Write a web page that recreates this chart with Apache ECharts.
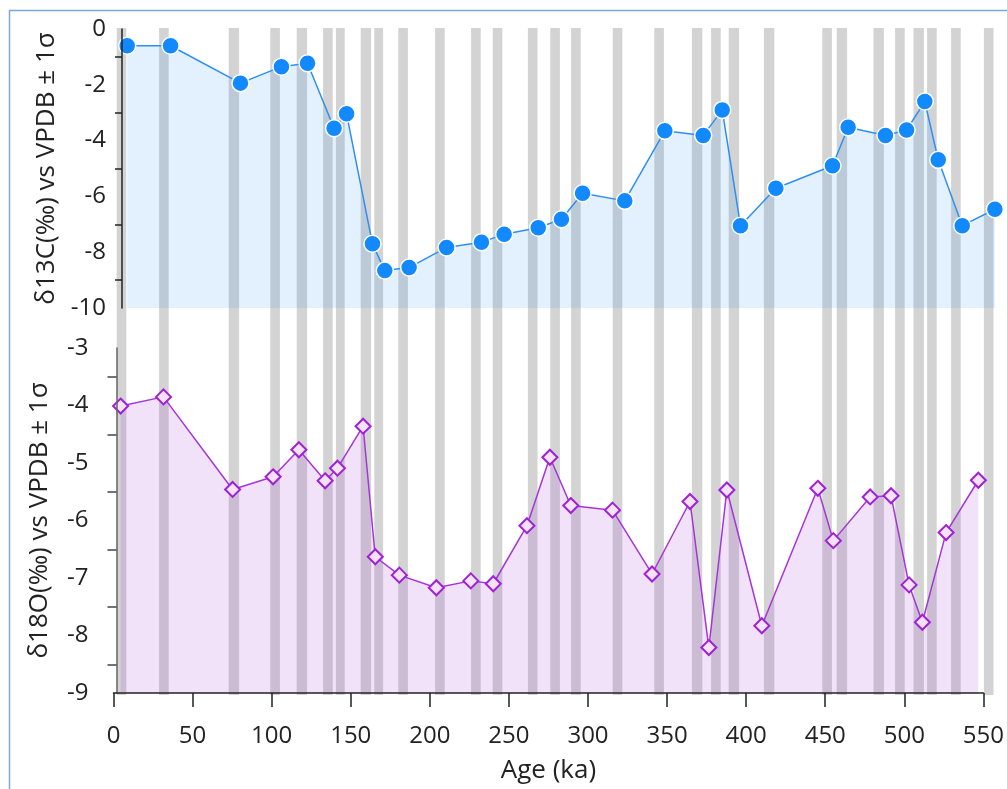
<!DOCTYPE html>
<html>
<head>
<meta charset="utf-8">
<script src="https://cdn.jsdelivr.net/npm/echarts@6/dist/echarts.min.js"></script>
<style>html,body{margin:0;padding:0;background:#fff}#c{width:1007px;height:789px}</style>
</head>
<body>
<div id="c"></div>
<script>
// Sample ages (ka)
const ages = [4.5, 31.6, 75.3, 100.9, 117.2, 133.8, 141.6, 157.8, 165.5, 180.7, 204.1, 225.9, 240.1, 261.4, 275.9, 289.1, 315.5, 340.5, 364.5, 376.4, 387.8, 409.9, 445.3, 455.1, 478.4, 491.6, 503.0, 511.4, 526.4, 546.8];
// δ13C values (‰)
const d13C = [-0.6, -0.6, -1.94, -1.35, -1.23, -3.56, -3.04, -7.70, -8.66, -8.55, -7.83, -7.64, -7.36, -7.12, -6.82, -5.89, -6.16, -3.65, -3.82, -2.90, -7.05, -5.71, -4.90, -3.52, -3.82, -3.62, -2.60, -4.69, -7.05, -6.46];
// δ18O values (‰)
const d18O = [-4.01, -3.85, -5.46, -5.24, -4.77, -5.31, -5.09, -4.36, -6.63, -6.95, -7.17, -7.05, -7.10, -6.09, -4.90, -5.74, -5.82, -6.93, -5.67, -8.21, -5.47, -7.83, -5.44, -6.35, -5.59, -5.57, -7.12, -7.77, -6.21, -5.30];
// Gray band ranges (ka)
const bandStart = [2, 28.5, 72, 98, 114.5, 131, 139, 154.5, 163, 178, 201, 223.5, 237, 259, 273, 286, 312, 338, 361.5, 373.5, 384.5, 406.5, 443, 452, 475, 488.5, 500, 508.5, 523.5, 544];
const bandEnd   = [8, 34.5, 78.5, 104, 121, 137, 144.5, 161, 168.5, 184, 207, 229.5, 243, 265, 279, 292, 318, 344, 368, 379.5, 391, 413, 449, 458.5, 481.5, 494.5, 506.5, 514.5, 529.5, 550];
// Tick labels
const xTicks = [0, 50, 100, 150, 200, 250, 300, 350, 400, 450, 500, 550];
const topLabels = [0, -2, -4, -6, -8, -10];
const topTicks = [-1, -3, -5, -7, -9];
const botLabels = [-3, -4, -5, -6, -7, -8, -9];
const botTicks = [-3.5, -4.5, -5.5, -6.5, -7.5, -8.5];

const FONT = 'Open Sans';
const TXT = '#222';

const chart = echarts.init(document.getElementById('c'), null, {renderer: 'canvas'});
const bands = bandStart.map((s, i) => [s, bandEnd[i]]);

chart.setOption({
  animation: false,
  backgroundColor: '#fff',
  textStyle: {fontFamily: FONT},
  graphic: [{
    type: 'rect', z: 100, silent: true,
    shape: {x: 9.5, y: 10.5, width: 1020, height: 800},
    style: {fill: 'none', stroke: '#7da7da', lineWidth: 1.5}
  }],
  grid: [
    {left: 113.5, width: 880, top: 28, height: 667},
    {left: 120, width: 880, top: 29, height: 279},
    {left: 113.5, width: 880, top: 348, height: 345}
  ],
  xAxis: [
    {gridIndex: 0, type: 'value', min: 0, max: 550, show: false},
    {gridIndex: 1, type: 'value', min: 0, max: 550, show: false},
    {gridIndex: 2, type: 'value', min: 0, max: 550, interval: 50, z: 10,
      axisLine: {show: true, lineStyle: {color: '#222', width: 1.5}},
      axisTick: {show: true, length: 14, lineStyle: {color: '#222', width: 1.5}, customValues: xTicks},
      axisLabel: {fontSize: 24, color: TXT, margin: 31, fontFamily: FONT, customValues: xTicks},
      splitLine: {show: false},
      name: 'Age (ka)', nameLocation: 'middle', nameGap: 65,
      nameTextStyle: {fontSize: 26, color: TXT, fontFamily: FONT}
    }
  ],
  yAxis: [
    {gridIndex: 0, type: 'value', min: 0, max: 1, show: false},
    {gridIndex: 1, type: 'value', min: -10, max: 0, offset: -2, z: 10,
      axisLine: {show: true, lineStyle: {color: '#222', width: 1.5}},
      axisTick: {show: true, length: 7, lineStyle: {color: '#222', width: 1.5}, customValues: topTicks},
      axisLabel: {fontSize: 24, color: TXT, margin: 16, fontFamily: FONT, customValues: topLabels},
      splitLine: {show: false},
      name: 'δ13C(‰) vs VPDB ± 1σ', nameLocation: 'middle', nameGap: 58, nameRotate: 90,
      nameTextStyle: {fontSize: 26, color: TXT, fontFamily: FONT}
    },
    {gridIndex: 2, type: 'value', min: -9, max: -3, offset: -3, z: 10,
      axisLine: {show: true, lineStyle: {color: '#666', width: 1.5}},
      axisTick: {show: true, length: 9, lineStyle: {color: '#444', width: 1.5}, customValues: botTicks},
      axisLabel: {fontSize: 24, color: TXT, margin: 28, fontFamily: FONT, customValues: botLabels},
      splitLine: {show: false},
      name: 'δ18O(‰) vs VPDB ± 1σ', nameLocation: 'middle', nameGap: 64, nameRotate: 90,
      nameTextStyle: {fontSize: 26, color: TXT, fontFamily: FONT}
    }
  ],
  series: [
    {
      type: 'custom', xAxisIndex: 0, yAxisIndex: 0, z: 1, silent: true,
      data: bands,
      renderItem: function (params, api) {
        const p0 = api.coord([api.value(0), 1]);
        const p1 = api.coord([api.value(1), 0]);
        return {type: 'rect', shape: {x: p0[0], y: p0[1], width: p1[0] - p0[0], height: p1[1] - p0[1]},
          style: {fill: '#d3d3d3'}};
      }
    },
    {
      type: 'line', xAxisIndex: 1, yAxisIndex: 1, z: 3,
      data: ages.map((a, i) => [a, d13C[i]]),
      symbol: 'circle', symbolSize: 17,
      lineStyle: {color: '#2e8ff2', width: 1.5},
      itemStyle: {color: '#1289fe', borderColor: '#fff', borderWidth: 1.5},
      areaStyle: {color: 'rgba(30,144,255,0.18)', origin: 'start'}
    },
    {
      type: 'line', xAxisIndex: 2, yAxisIndex: 2, z: 3,
      data: ages.map((a, i) => [a, d18O[i]]),
      symbol: 'diamond', symbolSize: 15,
      lineStyle: {color: '#a535d9', width: 1.5},
      itemStyle: {color: '#f4e2f8', borderColor: '#a020d8', borderWidth: 2},
      areaStyle: {color: 'rgba(160,50,210,0.2)', origin: 'start'}
    }
  ]
});
</script>
</body>
</html>
